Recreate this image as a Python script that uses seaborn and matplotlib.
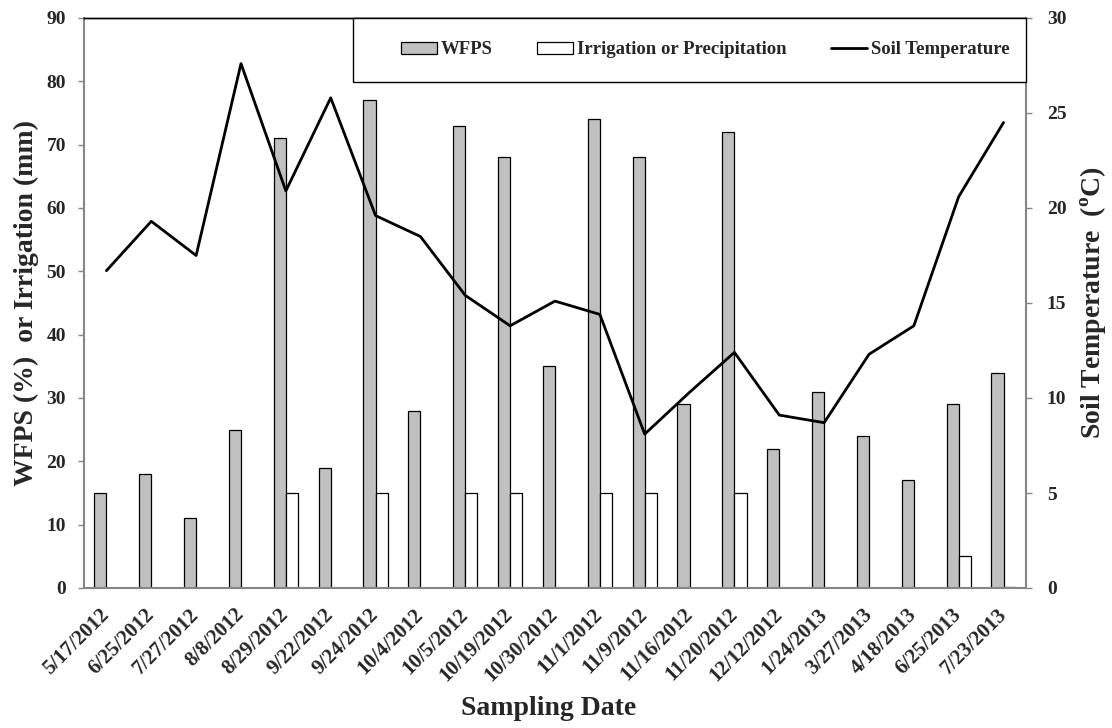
import numpy as np
import pandas as pd
import matplotlib
matplotlib.use("Agg")
import matplotlib.pyplot as plt
import seaborn as sns
from matplotlib.patches import Patch, Rectangle
from matplotlib.lines import Line2D

# Sampling dates (categorical x axis)
dates = ["5/17/2012", "6/25/2012", "7/27/2012", "8/8/2012", "8/29/2012",
         "9/22/2012", "9/24/2012", "10/4/2012", "10/5/2012", "10/19/2012",
         "10/30/2012", "11/1/2012", "11/9/2012", "11/16/2012", "11/20/2012",
         "12/12/2012", "1/24/2013", "3/27/2013", "4/18/2013", "6/25/2013",
         "7/23/2013"]

# Water-filled pore space (%)
wfps = [15, 18, 11, 25, 71, 19, 77, 28, 73, 68, 35, 74, 68, 29, 72,
        22, 31, 24, 17, 29, 34]

# Irrigation or precipitation (mm)
irrigation = [0, 0, 0, 0, 15, 0, 15, 0, 15, 15, 0, 15, 15, 0, 15,
              0, 0, 0, 0, 5, 0.2]

# Soil temperature (deg C), right axis
soil_temp = [16.7, 19.3, 17.5, 27.6, 20.9, 25.8, 19.6, 18.5, 15.4, 13.8,
             15.1, 14.4, 8.1, 10.3, 12.4, 9.1, 8.7, 12.3, 13.8, 20.6, 24.5]

left_ticks = list(range(0, 91, 10))
right_ticks = list(range(0, 31, 5))

series_names = ["WFPS", "Irrigation or Precipitation"]
bar_colors = ["#C0C0C0", "#FFFFFF"]
spine_gray = "#868686"

sns.set_theme(style="white")
plt.rcParams["font.family"] = ["Liberation Serif", "DejaVu Serif"]
plt.rcParams["font.weight"] = "bold"
plt.rcParams["mathtext.fontset"] = "custom"
plt.rcParams["mathtext.rm"] = "Liberation Serif:bold"
plt.rcParams["mathtext.bf"] = "Liberation Serif:bold"

fig = plt.figure(figsize=(11.12, 7.28), dpi=100)
fig.patch.set_facecolor("white")
ax = fig.add_axes([84 / 1112, 1 - 588 / 728, 942 / 1112, 570 / 728])

df = pd.DataFrame({
    "date": dates * 2,
    "value": wfps + irrigation,
    "series": [series_names[0]] * len(dates) + [series_names[1]] * len(dates),
})

sns.barplot(data=df, x="date", y="value", hue="series", order=dates,
            hue_order=series_names, palette=bar_colors, saturation=1,
            edgecolor="black", linewidth=0.9, width=0.54, gap=0,
            errorbar=None, legend=False, ax=ax)

# zero-height bars would leave stray edge marks on the baseline
for p in ax.patches:
    if p.get_height() == 0:
        p.set_visible(False)

ax2 = ax.twinx()
sns.lineplot(x=np.arange(len(dates)), y=soil_temp, ax=ax2, color="black",
             linewidth=2.0, legend=False)

ax.set_xlim(-0.5, len(dates) - 0.5)
ax.set_ylim(0, 90)
ax2.set_ylim(0, 30)
ax.set_yticks(left_ticks)
ax.set_yticklabels([str(t) for t in left_ticks])
ax2.set_yticks(right_ticks)
ax2.set_yticklabels([str(t) for t in right_ticks])

ax.set_xticks(range(len(dates)))
ax.set_xticklabels(dates, rotation=45, ha="right", va="center",
                   rotation_mode="anchor", fontsize=15, fontweight="bold")
ax.tick_params(axis="x", length=0, pad=17)
ax.tick_params(axis="y", length=4, width=1, color=spine_gray, direction="out",
               labelsize=14, pad=9, left=True)
ax2.tick_params(axis="y", length=4, width=1, color=spine_gray, direction="out",
                labelsize=14, pad=11, right=True)

# spines
for s in ["left", "bottom"]:
    ax.spines[s].set_color(spine_gray)
    ax.spines[s].set_linewidth(1.5)
ax.spines["right"].set_visible(False)
ax.spines["top"].set_color("black")
ax.spines["top"].set_linewidth(1.0)
ax2.spines["left"].set_visible(False)
ax2.spines["bottom"].set_visible(False)
ax2.spines["right"].set_color(spine_gray)
ax2.spines["right"].set_linewidth(1.5)
ax2.spines["top"].set_color("black")
ax2.spines["top"].set_linewidth(1.0)

ax.set_xlabel("Sampling Date", fontsize=20, fontweight="bold", va="center")
ax.xaxis.set_label_coords(0.4936, -0.212)
ax.set_ylabel("WFPS (%)  or Irrigation (mm)", fontsize=20, fontweight="bold",
              va="center", ha="center")
ax.yaxis.set_label_coords(-0.0616, 0.5)
ax2.set_ylabel(r"Soil Temperature  ($^{\mathrm{o}}$C)", fontsize=20,
               fontweight="bold", va="center", ha="center", rotation=90)
ax2.yaxis.set_label_coords(1.0722, 0.5)

# legend box across the top right
box = Rectangle((0.2856, 0.8877), 0.7144, 0.1123, transform=ax2.transAxes,
                facecolor="white", edgecolor="black", linewidth=1.0,
                zorder=5, clip_on=False)
ax2.add_patch(box)
handles = [
    Patch(facecolor=bar_colors[0], edgecolor="black", linewidth=0.9),
    Patch(facecolor=bar_colors[1], edgecolor="black", linewidth=0.9),
    Line2D([0], [0], color="black", linewidth=2.0),
]
labels = ["WFPS", "Irrigation or Precipitation", "Soil Temperature"]
leg = ax2.legend(handles, labels, loc="center left",
                 bbox_to_anchor=(0.3365, 0.9439), ncol=3, frameon=False,
                 prop={"family": "Liberation Serif", "weight": "bold",
                       "size": 13.5},
                 handlelength=1.9, handleheight=0.6, handletextpad=0.2,
                 columnspacing=2.4, borderpad=0, borderaxespad=0)
leg.set_zorder(6)

fig.savefig("out.png", dpi=100, facecolor="white")
